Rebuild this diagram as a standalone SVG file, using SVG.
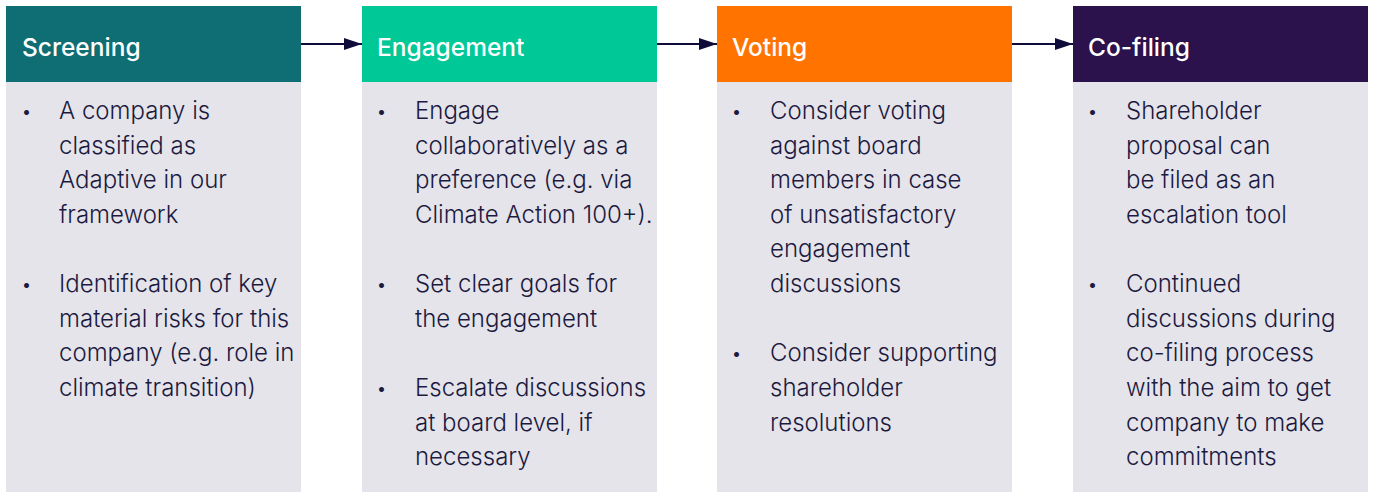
<svg xmlns="http://www.w3.org/2000/svg" width="1373" height="495" viewBox="0 0 1373 495">
<defs>
<style>
.hd{font-family:Inter,"Liberation Sans",sans-serif;font-size:24.5px;font-weight:500;fill:#ffffff}
.bd{font-family:Inter,"Liberation Sans",sans-serif;font-size:24px;font-weight:300;fill:#1c1a40}
.bl{font-family:Inter,"Liberation Sans",sans-serif;font-size:16px;fill:#1c1a40}
.body{fill:#e5e4ea}
.con{stroke:#0f0c3a;stroke-width:2;fill:none}
</style>
<marker id="ah" viewBox="0 0 18 12" refX="18" refY="6" markerWidth="18" markerHeight="12" markerUnits="userSpaceOnUse" orient="auto">
<path d="M0,0 L18,6 L0,12 z" fill="#0f0c3a"/>
</marker>
</defs>
<g id="connectors">
<line class="con" x1="301" y1="44" x2="362" y2="44" marker-end="url(#ah)"/>
<line class="con" x1="657" y1="44" x2="717" y2="44" marker-end="url(#ah)"/>
<line class="con" x1="1012" y1="44" x2="1073" y2="44" marker-end="url(#ah)"/>
</g>
<g id="screening">
<rect x="6" y="6" width="295" height="76" fill="#0e6e73"/>
<rect class="body" x="6" y="82" width="295" height="410"/>
<text class="hd" x="22" y="56">Screening</text>
<text class="bl" x="22" y="117">•</text>
<text class="bd"><tspan x="59" y="119">A company is</tspan><tspan x="59" y="154">classified as</tspan><tspan x="59" y="188">Adaptive in our</tspan><tspan x="59" y="223">framework</tspan></text>
<text class="bl" x="22" y="290">•</text>
<text class="bd"><tspan x="59" y="292">Identification of key</tspan><tspan x="59" y="327">material risks for this</tspan><tspan x="59" y="361">company (e.g. role in</tspan><tspan x="59" y="396">climate transition)</tspan></text>
</g>
<g id="engagement">
<rect x="362" y="6" width="295" height="76" fill="#00c896"/>
<rect class="body" x="362" y="82" width="295" height="410"/>
<text class="hd" x="377" y="56">Engagement</text>
<text class="bl" x="377" y="117">•</text>
<text class="bd"><tspan x="415" y="119">Engage</tspan><tspan x="415" y="154">collaboratively as a</tspan><tspan x="415" y="188">preference (e.g. via</tspan><tspan x="415" y="223">Climate Action 100+).</tspan></text>
<text class="bl" x="377" y="290">•</text>
<text class="bd"><tspan x="415" y="292">Set clear goals for</tspan><tspan x="415" y="327">the engagement</tspan></text>
<text class="bl" x="377" y="394">•</text>
<text class="bd"><tspan x="415" y="396">Escalate discussions</tspan><tspan x="415" y="431">at board level, if</tspan><tspan x="415" y="465">necessary</tspan></text>
</g>
<g id="voting">
<rect x="717" y="6" width="295" height="76" fill="#ff7300"/>
<rect class="body" x="717" y="82" width="295" height="410"/>
<text class="hd" x="732" y="56">Voting</text>
<text class="bl" x="732" y="117">•</text>
<text class="bd"><tspan x="770" y="119">Consider voting</tspan><tspan x="770" y="154">against board</tspan><tspan x="770" y="188">members in case</tspan><tspan x="770" y="223">of unsatisfactory</tspan><tspan x="770" y="257">engagement</tspan><tspan x="770" y="292">discussions</tspan></text>
<text class="bl" x="732" y="359">•</text>
<text class="bd"><tspan x="770" y="361">Consider supporting</tspan><tspan x="770" y="396">shareholder</tspan><tspan x="770" y="431">resolutions</tspan></text>
</g>
<g id="cofiling">
<rect x="1073" y="6" width="295" height="76" fill="#2b124c"/>
<rect class="body" x="1073" y="82" width="295" height="410"/>
<text class="hd" x="1088" y="56">Co-filing</text>
<text class="bl" x="1088" y="117">•</text>
<text class="bd"><tspan x="1126" y="119">Shareholder</tspan><tspan x="1126" y="154">proposal can</tspan><tspan x="1126" y="188">be filed as an</tspan><tspan x="1126" y="223">escalation tool</tspan></text>
<text class="bl" x="1088" y="290">•</text>
<text class="bd"><tspan x="1126" y="292">Continued</tspan><tspan x="1126" y="327">discussions during</tspan><tspan x="1126" y="361">co-filing process</tspan><tspan x="1126" y="396">with the aim to get</tspan><tspan x="1126" y="431">company to make</tspan><tspan x="1126" y="465">commitments</tspan></text>
</g>
</svg>
